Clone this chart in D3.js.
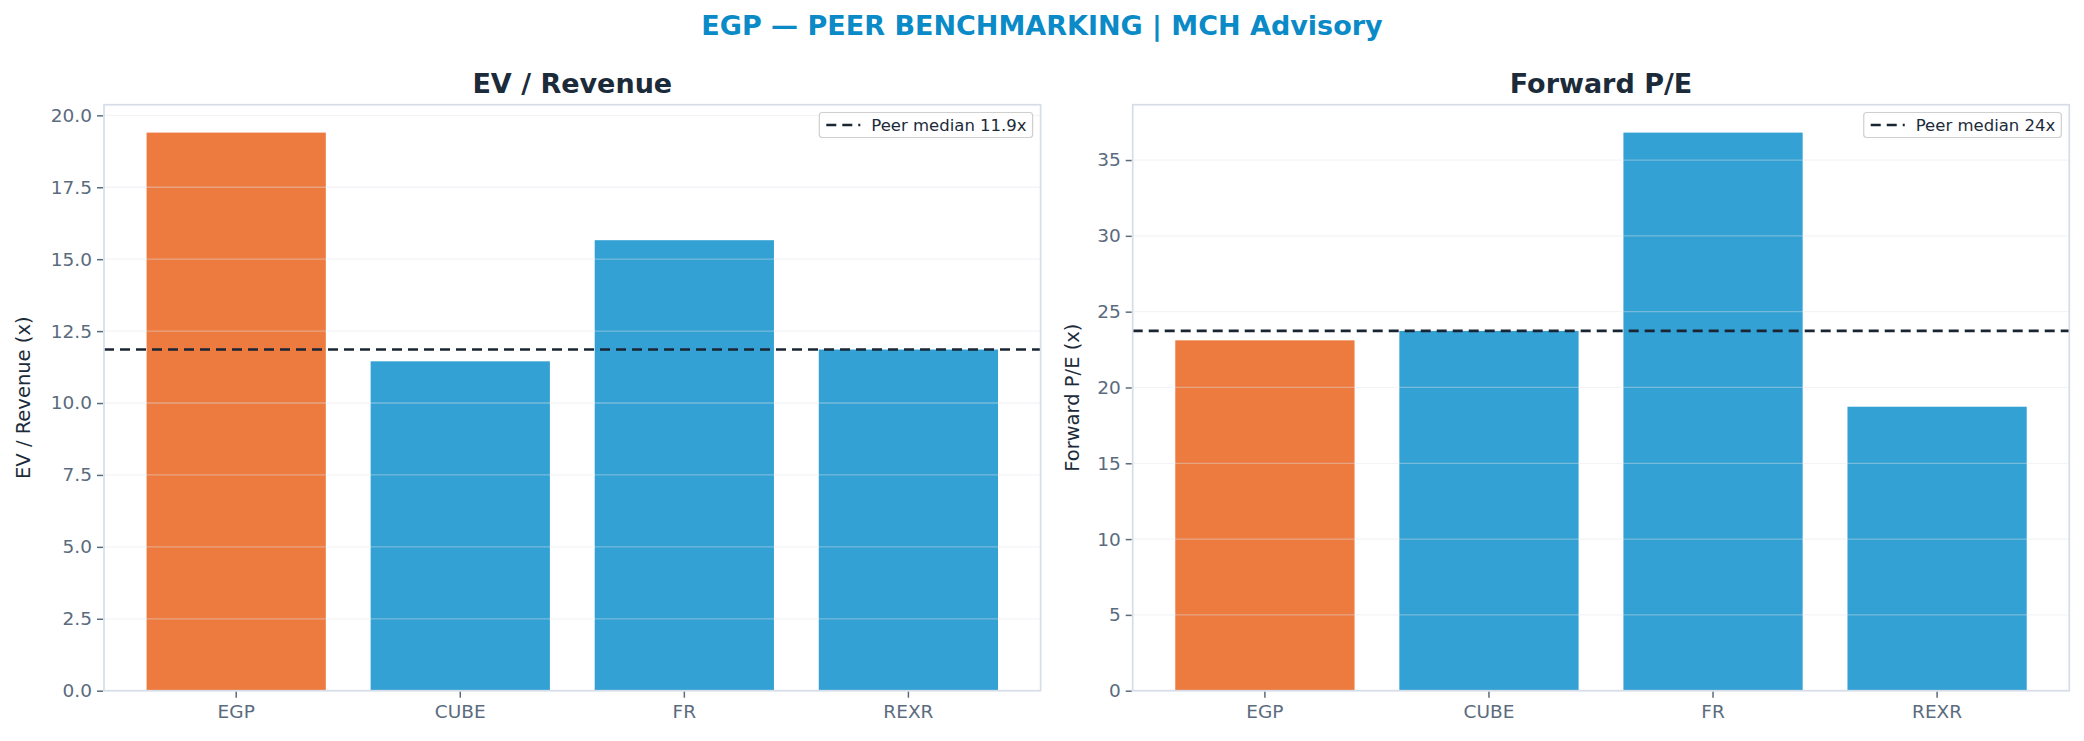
<!DOCTYPE html>
<html>
<head>
<meta charset="utf-8">
<script src="https://cdn.jsdelivr.net/npm/d3@7"></script>
<style>
  body { margin: 0; background: #fff; }
  svg { display: block; font-family: "DejaVu Sans", sans-serif; }
</style>
</head>
<body>
<svg id="chart"></svg>
<script>
// values
const tickers = ['EGP', 'CUBE', 'FR', 'REXR'];
const evRevenue = [19.40, 11.45, 15.66, 11.86];
const forwardPE = [23.11, 23.73, 36.81, 18.73];
const evTicks = [0, 2.5, 5, 7.5, 10, 12.5, 15, 17.5, 20];
const peTicks = [0, 5, 10, 15, 20, 25, 30, 35];
const subject = 'EGP';

const W = 2084, H = 741;
const plotTop = 104.7, plotBottom = 690.7;

const panels = [
  { title: 'EV / Revenue', ylabel: 'EV / Revenue (x)', values: evRevenue, ticks: evTicks,
    tickFmt: d3.format('.1f'), medFmt: d3.format('.1f'), x0: 104, x1: 1040.6, labelX: 23 },
  { title: 'Forward P/E', ylabel: 'Forward P/E (x)', values: forwardPE, ticks: peTicks,
    tickFmt: d3.format('d'), medFmt: d3.format('.0f'), x0: 1132.7, x1: 2069.3, labelX: 1072 }
];

const svg = d3.select('#chart')
  .attr('width', W)
  .attr('height', H);

svg.append('text')
  .attr('x', W / 2)
  .attr('y', 35)
  .attr('text-anchor', 'middle')
  .attr('font-size', 27)
  .attr('font-weight', 'bold')
  .attr('fill', '#0a8ac6')
  .text('EGP — PEER BENCHMARKING | MCH Advisory');

panels.forEach(p => {
  const data = tickers.map((t, i) => ({ ticker: t, value: p.values[i] }));
  const peers = data.filter(d => d.ticker !== subject).map(d => d.value);
  const median = d3.median(peers);

  const x = d3.scaleBand()
    .domain(tickers)
    .range([p.x0, p.x1])
    .paddingInner(0.2)
    .paddingOuter(0.19);

  const y = d3.scaleLinear()
    .domain([0, d3.max(p.values) * 1.05])
    .range([plotBottom, plotTop]);

  const g = svg.append('g');

  // bars
  g.selectAll('rect.bar')
    .data(data)
    .enter().append('rect')
    .attr('class', 'bar')
    .attr('x', d => x(d.ticker))
    .attr('width', x.bandwidth())
    .attr('y', d => y(d.value))
    .attr('height', d => y(0) - y(d.value))
    .attr('fill', d => d.ticker === subject ? '#e85a0f' : '#008ac8')
    .attr('fill-opacity', 0.8);

  // grid on top of bars, faint
  g.selectAll('line.grid')
    .data(p.ticks)
    .enter().append('line')
    .attr('class', 'grid')
    .attr('x1', p.x0)
    .attr('x2', p.x1)
    .attr('y1', d => y(d))
    .attr('y2', d => y(d))
    .attr('stroke', '#dfe4ea')
    .attr('stroke-opacity', 0.4)
    .attr('stroke-width', 1.3);

  // peer median
  g.append('line')
    .attr('x1', p.x0)
    .attr('x2', p.x1)
    .attr('y1', y(median))
    .attr('y2', y(median))
    .attr('stroke', '#1a2533')
    .attr('stroke-width', 2.6)
    .attr('stroke-dasharray', '10,6');

  // frame
  g.append('rect')
    .attr('x', p.x0)
    .attr('y', plotTop)
    .attr('width', p.x1 - p.x0)
    .attr('height', plotBottom - plotTop)
    .attr('fill', 'none')
    .attr('stroke', '#d6dde8')
    .attr('stroke-width', 1.7);

  // axes
  const yAxis = g.append('g')
    .attr('transform', `translate(${p.x0 - 1}, 0)`)
    .call(d3.axisLeft(y).tickValues(p.ticks).tickFormat(p.tickFmt).tickSize(6).tickPadding(5));

  const xAxis = g.append('g')
    .attr('transform', `translate(0, ${plotBottom + 1})`)
    .call(d3.axisBottom(x).tickSize(6).tickPadding(7));

  [yAxis, xAxis].forEach(a => {
    a.select('.domain').remove();
    a.selectAll('.tick line').attr('stroke', '#5b6b7b').attr('stroke-width', 1.5);
    a.selectAll('.tick text')
      .attr('fill', '#5a6b7e')
      .attr('font-size', 18.5)
      .attr('font-family', '"DejaVu Sans", sans-serif');
  });

  // titles
  g.append('text')
    .attr('x', (p.x0 + p.x1) / 2)
    .attr('y', 93)
    .attr('text-anchor', 'middle')
    .attr('font-size', 27)
    .attr('font-weight', 'bold')
    .attr('fill', '#1c2b3a')
    .text(p.title);

  g.append('text')
    .attr('transform', `translate(${p.labelX}, ${(plotTop + plotBottom) / 2}) rotate(-90)`)
    .attr('text-anchor', 'middle')
    .attr('dy', '0.35em')
    .attr('font-size', 19.5)
    .attr('fill', '#1c2b3a')
    .text(p.ylabel);

  // legend
  const label = `Peer median ${p.medFmt(median)}x`;
  const leg = g.append('g');
  const txt = leg.append('text')
    .attr('y', 125)
    .attr('dy', '0.35em')
    .attr('font-size', 16.5)
    .attr('fill', '#1c2b3a')
    .text(label);
  const tw = txt.node().getComputedTextLength();
  const boxR = p.x1 - 8;
  const textX = boxR - 6 - tw;
  txt.attr('x', textX);
  leg.insert('rect', 'text')
    .attr('x', textX - 52)
    .attr('y', 112.5)
    .attr('width', tw + 58)
    .attr('height', 25)
    .attr('rx', 3)
    .attr('fill', '#fff')
    .attr('fill-opacity', 0.85)
    .attr('stroke', '#cfcfcf')
    .attr('stroke-width', 1.2);
  leg.append('line')
    .attr('x1', textX - 45)
    .attr('x2', textX - 11)
    .attr('y1', 125)
    .attr('y2', 125)
    .attr('stroke', '#1a2533')
    .attr('stroke-width', 2.6)
    .attr('stroke-dasharray', '10,6');
});
</script>
</body>
</html>
